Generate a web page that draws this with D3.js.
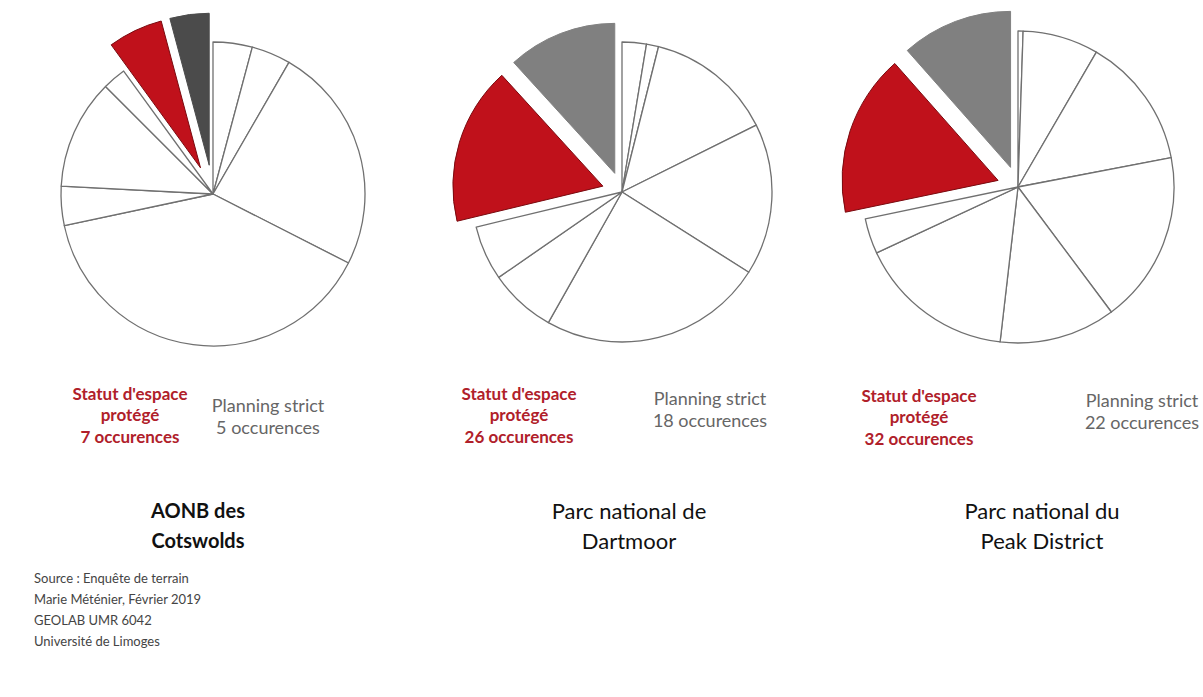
<!DOCTYPE html>
<html>
<head>
<meta charset="utf-8">
<script src="https://cdn.jsdelivr.net/npm/d3@7"></script>
<style>
  html, body { margin: 0; padding: 0; background: #fff; }
  svg { display: block; }
  text { font-family: Lato, "Open Sans", "Liberation Sans", sans-serif; }
</style>
</head>
<body>
<svg id="chart" width="1203" height="697"></svg>
<script>
// ---- Data (occurrences per category, clockwise from 12 o'clock) ----
const parkNames = ["Cotswolds", "Dartmoor", "Peak District"];
const cotswoldsValues = [5, 5, 29, 47, 5, 14, 3, 7, 5];
const dartmoorValues = [4, 2, 21, 25, 37, 11, 9, 26, 18];
const peakValues = [1, 15, 26, 34, 23, 31, 7, 32, 22];
// last two slices of each pie: "Statut d'espace protégé" (red), "Planning strict" (grey)
const protectedCounts = [7, 26, 32];
const planningCounts = [5, 18, 22];
const titleLines = [["AONB des", "Cotswolds"], ["Parc national de", "Dartmoor"], ["Parc national du", "Peak District"]];
const sourceLines = ["Source : Enquête de terrain", "Marie Méténier, Février 2019", "GEOLAB UMR 6042", "Université de Limoges"];

// ---- Layout ----
const svg = d3.select("#chart");
const pies = [
  { values: cotswoldsValues, cx: 213, cy: 194, r: 152, explode: 29, grey: "#4b4b4b",
    red: { x: 130, y: 393 }, plan: { x: 268, y: 405 }, title: { x: 198, y: 510 }, bold: true },
  { values: dartmoorValues, cx: 622, cy: 192, r: 150, explode: 20, grey: "#808080",
    red: { x: 519, y: 393 }, plan: { x: 710, y: 398 }, title: { x: 629, y: 510 }, bold: false },
  { values: peakValues, cx: 1018, cy: 187, r: 156, explode: 21, grey: "#808080",
    red: { x: 919, y: 395 }, plan: { x: 1142, y: 400 }, title: { x: 1042, y: 510 }, bold: false }
];

const pieGen = d3.pie().sort(null).value(d => d).startAngle(0).endAngle(2 * Math.PI);

pies.forEach((p, pi) => {
  const arcs = pieGen(p.values);
  const n = arcs.length;
  const arc = d3.arc().innerRadius(0).outerRadius(p.r);
  const g = svg.append("g").attr("transform", `translate(${p.cx},${p.cy})`);

  arcs.forEach((a, i) => {
    const isRed = i === n - 2, isGrey = i === n - 1;
    let tx = 0, ty = 0;
    if (isRed || isGrey) {
      const mid = (a.startAngle + a.endAngle) / 2;
      tx = Math.sin(mid) * p.explode;
      ty = -Math.cos(mid) * p.explode;
    }
    g.append("path")
      .attr("d", arc(a))
      .attr("transform", `translate(${tx},${ty})`)
      .attr("fill", isRed ? "#c0111b" : isGrey ? p.grey : "#ffffff")
      .attr("stroke", isRed ? "#7a0a0f" : isGrey ? p.grey : "#707070")
      .attr("stroke-width", isRed || isGrey ? 1 : 1.3)
      .attr("stroke-linejoin", "round");
  });

  // Red label
  const redLines = ["Statut d'espace", "protégé", `${protectedCounts[pi]} occurences`];
  svg.append("g").selectAll("text").data(redLines).join("text")
    .attr("x", p.red.x).attr("y", (d, i) => p.red.y + i * 21.5)
    .attr("text-anchor", "middle").attr("dominant-baseline", "central")
    .attr("font-size", 17).attr("font-weight", "bold").attr("fill", "#b0202a")
    .text(d => d);

  // Planning label
  const planLines = ["Planning strict", `${planningCounts[pi]} occurences`];
  svg.append("g").selectAll("text").data(planLines).join("text")
    .attr("x", p.plan.x).attr("y", (d, i) => p.plan.y + i * 21.5)
    .attr("text-anchor", "middle").attr("dominant-baseline", "central")
    .attr("font-size", 18).attr("fill", "#666666")
    .text(d => d);

  // Title
  svg.append("g").selectAll("text").data(titleLines[pi]).join("text")
    .attr("x", p.title.x).attr("y", (d, i) => p.title.y + i * 30)
    .attr("text-anchor", "middle").attr("dominant-baseline", "central")
    .attr("font-size", p.bold ? 20 : 22).attr("font-weight", p.bold ? "bold" : "normal").attr("fill", "#111111")
    .text(d => d);
});

// Source
svg.append("g").selectAll("text").data(sourceLines).join("text")
  .attr("x", 34).attr("y", (d, i) => 578 + i * 21)
  .attr("dominant-baseline", "central")
  .attr("font-size", 13).attr("fill", "#444444")
  .text(d => d);
</script>
</body>
</html>
